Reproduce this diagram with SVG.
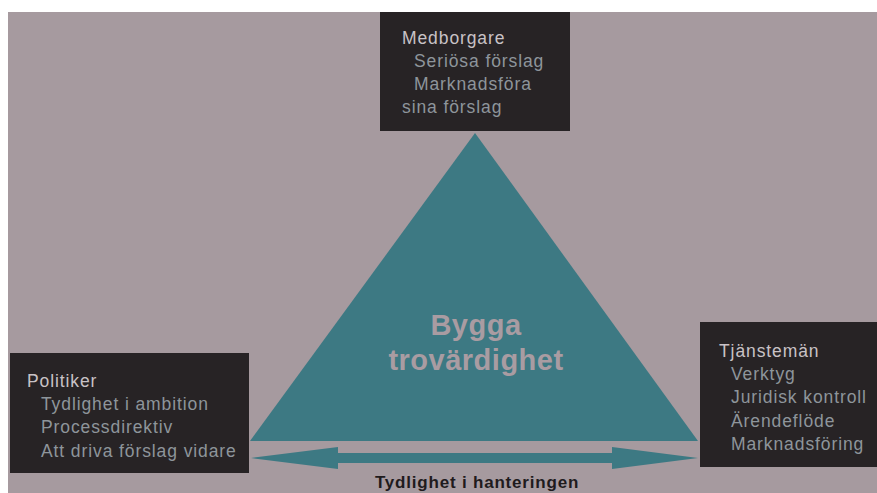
<svg xmlns="http://www.w3.org/2000/svg" width="877" height="493" viewBox="0 0 877 493">
<defs>
<style>
.box{fill:#272325}
.t{font-family:"Liberation Sans",Arial,sans-serif;font-size:17.5px;letter-spacing:0.9px}
.h{fill:#c9c2c6}
.s{fill:#8e959b}
.big{font-family:"Liberation Sans",Arial,sans-serif;font-size:29px;font-weight:bold;fill:#a99ca2;text-anchor:middle;letter-spacing:0.5px}
.lab{font-family:"Liberation Sans",Arial,sans-serif;font-size:17px;font-weight:bold;fill:#1f1b1d;text-anchor:middle;letter-spacing:0.8px}
.teal{fill:#3d7983}
</style>
</defs>
<rect x="0" y="0" width="877" height="493" fill="#ffffff"/>
<rect x="8" y="12" width="869" height="481" fill="#a69a9f"/>
<g id="triangle">
<polygon class="teal" points="475,133 250,441 698,441"/>
<text class="big" x="476" y="335">Bygga</text>
<text class="big" x="476" y="370">trovärdighet</text>
</g>
<g id="connectors">
<polygon class="teal" points="251,458 338,447 338,453 612,453 612,447 698,458 612,469 612,463 338,463 338,469"/>
<text class="lab" x="477" y="488">Tydlighet i hanteringen</text>
</g>
<g id="medborgare">
<rect class="box" x="380" y="12" width="190" height="119"/>
<text class="t h" x="402" y="44">Medborgare</text>
<text class="t s" x="414" y="67">Seriösa förslag</text>
<text class="t s" x="414" y="90">Marknadsföra</text>
<text class="t s" x="402" y="113">sina förslag</text>
</g>
<g id="politiker">
<rect class="box" x="10" y="353" width="239" height="120"/>
<text class="t h" x="27" y="387">Politiker</text>
<text class="t s" x="41" y="410">Tydlighet i ambition</text>
<text class="t s" x="41" y="433">Processdirektiv</text>
<text class="t s" x="41" y="457">Att driva förslag vidare</text>
</g>
<g id="tjansteman">
<rect class="box" x="700" y="322" width="177" height="145"/>
<text class="t h" x="719" y="357">Tjänstemän</text>
<text class="t s" x="731" y="380">Verktyg</text>
<text class="t s" x="731" y="403">Juridisk kontroll</text>
<text class="t s" x="731" y="427">Ärendeflöde</text>
<text class="t s" x="731" y="450">Marknadsföring</text>
</g>
</svg>
